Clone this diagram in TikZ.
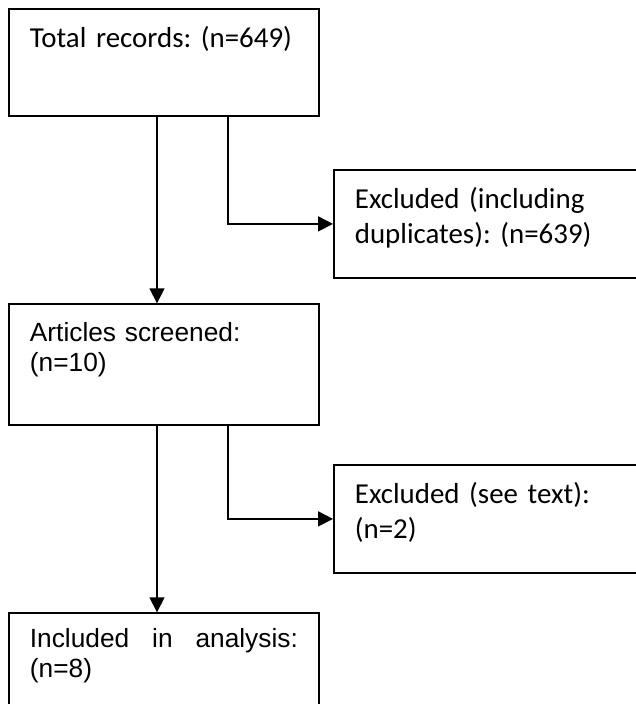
\documentclass[tikz,border=0pt]{standalone}
\usepackage{fontspec}
\setmainfont{Carlito}
\newfontfamily\arialfont{Liberation Sans}
\usepackage{tikz}
\usetikzlibrary{positioning,arrows.meta}
\frenchspacing
\tikzset{
  recbox/.style={draw, line width=1.8pt, anchor=north west, inner xsep=21pt, inner ysep=0pt,
                 minimum width=310pt, text width=268pt, align=left,
                 font=\fontsize{28.9}{35}\selectfont},
  sidebox/.style={recbox, minimum width=340pt, text width=298pt},
  sansbox/.style={recbox, font=\arialfont\fontsize{26.3}{30}\selectfont},
  fwd/.style={-{Triangle[length=15pt,width=15pt]}, line width=1.7pt},
}

\begin{document}
\begin{tikzpicture}[x=1pt, y=-1pt]
  \useasboundingbox (0,0) rectangle (636,704);
  \clip (0,0) rectangle (636,704);

  \node[recbox, text height=38.7pt, text depth=68.3pt] (total) at (8,8) {Total records: (n=649)};
  \node[sidebox, text height=38.4pt, text depth=69pt] (excl1) at (333,169.3) {Excluded (including\\duplicates): (n=639)};
  \node[sansbox, text height=37.4pt, text depth=83.3pt] (screened) at (8,303.3) {Articles screened:\\(n=10)};
  \node[sidebox, text height=38pt, text depth=69.4pt] (excl2) at (333,464.3) {Excluded (see text):\\(n=2)};
  \node[sansbox, align=justify, text height=34.4pt, text depth=80pt] (incl) at (8,612.3) {Included in analysis:\linebreak (n=8)};

  \coordinate (lane) at (157,0);
  \coordinate (side) at (228,0);

  \draw[fwd] (total.south -| lane) -- (screened.north -| lane);
  \draw[fwd] (total.south -| side) |- (excl1.west);
  \draw[fwd] (screened.south -| side) |- (excl2.west);
  \draw[fwd] (screened.south -| lane) -- (incl.north -| lane);
\end{tikzpicture}
\end{document}
